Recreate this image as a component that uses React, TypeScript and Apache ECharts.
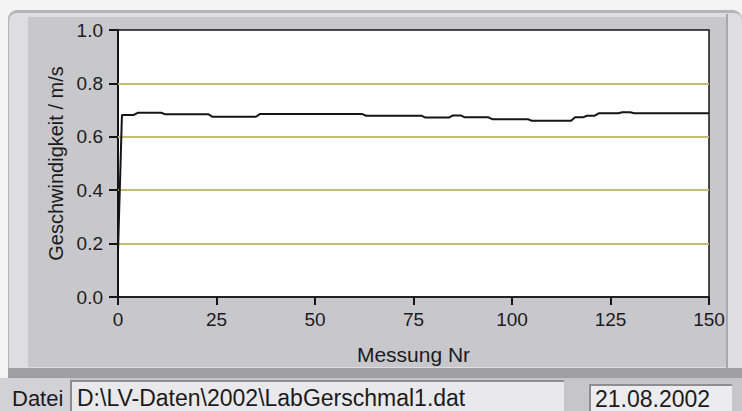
import React, { useEffect, useRef } from "react";
import * as echarts from "echarts";

// Messung Nr (x) and Geschwindigkeit in m/s (y)
const measureNr = [0, 1, 4, 5, 11, 12, 23, 24, 35, 36, 62, 63, 77, 78, 84, 85, 87, 88, 94, 95, 104, 105, 115, 116, 118, 119, 121, 122, 127, 128, 130, 131, 150];
const speed = [0.17, 0.682, 0.682, 0.69, 0.69, 0.684, 0.684, 0.675, 0.675, 0.685, 0.685, 0.679, 0.679, 0.672, 0.672, 0.68, 0.68, 0.673, 0.673, 0.666, 0.666, 0.66, 0.66, 0.673, 0.673, 0.679, 0.679, 0.688, 0.688, 0.692, 0.692, 0.688, 0.688];

const xTicks = [0, 25, 50, 75, 100, 125, 150];
const yTicks = [0, 0.2, 0.4, 0.6, 0.8, 1.0];
// horizontal guide lines inside the plot
const guideLevels = [0.2, 0.4, 0.6, 0.8];

const fileLabel = "Datei";
const filePath = "D:\\LV-Daten\\2002\\LabGerschmal1.dat";
const dateText = "21.08.2002";
const xTitle = "Messung Nr";
const yTitle = "Geschwindigkeit / m/s";

const FONT = "'Liberation Sans', Arial, sans-serif";
const INK = "#1b1b1d";

export default function App() {
  const ref = useRef<HTMLDivElement>(null);

  useEffect(() => {
    if (!ref.current) return;
    const chart = echarts.init(ref.current, undefined, { renderer: "svg" });

    const bg = (shape: any, fill: string, z = -20) => ({
      type: "rect",
      z,
      silent: true,
      shape,
      style: { fill },
    });

    chart.setOption({
      animation: false,
      backgroundColor: "#f3f3f3",
      graphic: [
        // front panel frame and bevels
        bg({ x: 8, y: 10, width: 734, height: 366, r: [9, 9, 0, 0] }, "#b4b4b8", -30),
        bg({ x: 9, y: 13, width: 733, height: 360, r: [8, 8, 0, 0] }, "#dedee1", -29),
        bg({ x: 28, y: 17, width: 698, height: 350 }, "#c8c8cc", -28),
        bg({ x: 726, y: 14, width: 2, height: 356 }, "#a9a9ad", -27),
        // shadow under the panel
        bg({ x: 8, y: 368, width: 734, height: 10 }, "#9e9ea3", -27),
        // lower strip with the file and date fields
        bg({ x: 0, y: 378, width: 742, height: 33 }, "#c6c6ca", -27),
        bg({ x: 0, y: 378, width: 70, height: 33 }, "#d2d2d6", -26),
        bg({ x: 70, y: 380, width: 494, height: 31 }, "#8e8e92", -26),
        bg({ x: 72, y: 382, width: 492, height: 29 }, "#e9e9eb", -25),
        bg({ x: 589, y: 384, width: 143, height: 27 }, "#8e8e92", -26),
        bg({ x: 591, y: 386, width: 141, height: 25 }, "#ececee", -25),
        {
          type: "text",
          left: 12,
          top: 387,
          style: { text: fileLabel, font: `22px ${FONT}`, fill: INK },
        },
        {
          type: "text",
          left: 77,
          top: 386,
          style: { text: filePath, font: `23px ${FONT}`, fill: INK },
        },
        {
          type: "text",
          left: 595,
          top: 387,
          style: { text: dateText, font: `23px ${FONT}`, fill: INK },
        },
      ],
      grid: {
        left: 118,
        right: 33,
        top: 30,
        bottom: 114,
        show: true,
        backgroundColor: "#ffffff",
        borderColor: "#141414",
        borderWidth: 1.5,
      },
      xAxis: {
        type: "value",
        min: 0,
        max: 150,
        interval: 25,
        name: xTitle,
        nameLocation: "middle",
        nameGap: 47,
        nameTextStyle: { fontFamily: FONT, fontSize: 21, color: INK },
        axisLine: { show: true, lineStyle: { color: "#141414", width: 1.5 } },
        axisTick: { show: true, length: 8, lineStyle: { color: "#141414", width: 2 } },
        axisLabel: {
          fontFamily: FONT,
          fontSize: 19,
          color: INK,
          margin: 13,
          customValues: xTicks,
        },
        splitLine: { show: false },
      },
      yAxis: {
        type: "value",
        min: 0,
        max: 1,
        interval: 0.2,
        name: yTitle,
        nameLocation: "middle",
        nameRotate: 90,
        nameGap: 50,
        nameTextStyle: { fontFamily: FONT, fontSize: 20, color: INK },
        axisLine: { show: true, lineStyle: { color: "#141414", width: 2 } },
        axisTick: { show: true, length: 9, lineStyle: { color: "#141414", width: 2 } },
        axisLabel: {
          fontFamily: FONT,
          fontSize: 19,
          color: INK,
          margin: 15,
          formatter: (v: number) => v.toFixed(1),
          customValues: yTicks,
        },
        splitLine: { show: false },
      },
      series: [
        {
          type: "line",
          data: measureNr.map((m, i) => [m, speed[i]]),
          showSymbol: false,
          lineStyle: { color: "#141414", width: 2 },
          z: 5,
          markLine: {
            silent: true,
            symbol: "none",
            label: { show: false },
            lineStyle: { color: "#c4bc74", width: 2, type: "solid" },
            data: guideLevels.map((v) => ({ yAxis: v })),
            z: 1,
          },
        },
      ],
    });

    return () => chart.dispose();
  }, []);

  return (
    <div
      ref={ref}
      style={{ position: "fixed", left: 0, top: 0, width: 742, height: 411 }}
    />
  );
}
